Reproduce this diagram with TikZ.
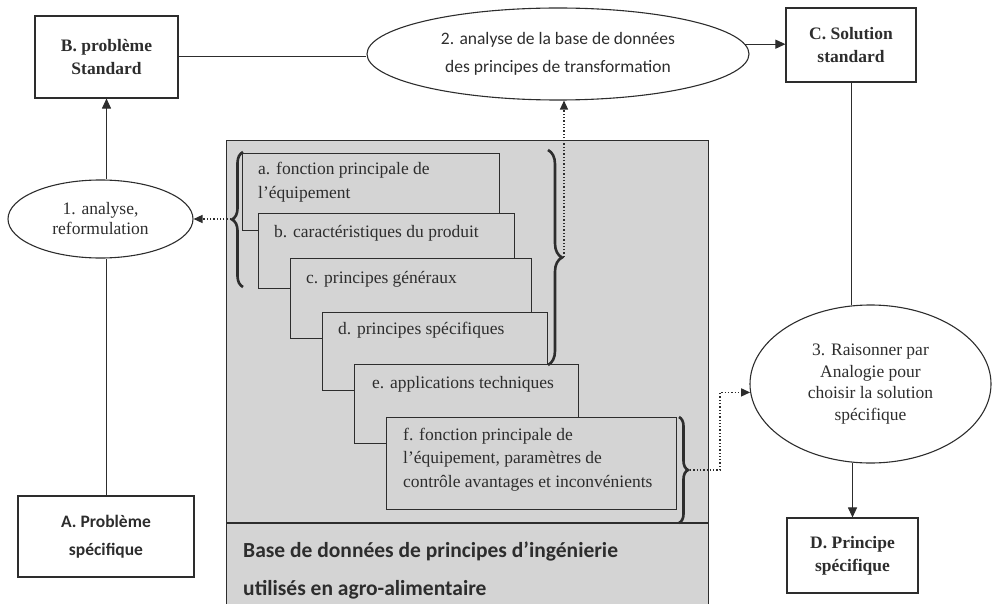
\documentclass[tikz,border=0pt]{standalone}
\usepackage{fontspec}
\setmainfont{Liberation Serif}
\newfontfamily\carl{Carlito}
\usetikzlibrary{shapes.geometric,arrows.meta,decorations.pathreplacing,calc}
\definecolor{dbgray}{RGB}{212,212,212}
\definecolor{ink}{RGB}{45,45,45}
\begin{document}
\begin{tikzpicture}[x=1pt,y=-1pt, color=ink,
  sbox/.style={draw=ink, line width=1.1pt, inner sep=0pt, align=center, text=ink,
    font=\fontsize{17.5}{23}\selectfont\bfseries},
  ell/.style={draw=ink, ellipse, line width=1.1pt, inner sep=0pt, align=center, text=ink},
  stk/.style={draw=ink, fill=dbgray, line width=1.1pt, anchor=north west, inner sep=0pt},
  stxt/.style={anchor=base west, inner sep=0pt, align=left, text=ink,
    font=\fontsize{17.5}{23.5}\selectfont},
  arr/.style={draw=ink, line width=1pt, -{Triangle[length=10pt,width=9pt]}},
  dotarr/.style={draw=ink, line width=1.3pt, dotted, -{Triangle[length=9pt,width=8pt]}},
  brc/.style={draw=ink, decorate, decoration={brace, amplitude=#1}, line width=2.6pt},
  conn/.style={draw=ink, line width=1pt}
]
\useasboundingbox (0,0) rectangle (992,604);

% database container
\node[draw=ink, fill=dbgray, line width=1.3pt, anchor=north west, inner sep=0pt,
      minimum width=482pt, minimum height=475pt] (db) at (226,140) {};
\coordinate (sepL) at (226,523);
\coordinate (sepR) at (708,523);
\draw[conn, line width=1.6pt] (sepL) -- (sepR);
\node[anchor=base west, inner sep=0pt, align=left, text=ink,
      font=\carl\bfseries\fontsize{21.5}{38}\selectfont] (dbt) at (243,595)
      {Base de données de principes d’ingénierie\\utilisés en agro-alimentaire};

% stacked boxes
\node[stk, minimum width=257pt, minimum height=77pt] (a) at (242,153) {};
\node[stxt] (ta) at (258,198) {a. fonction principale de\\l’équipement};
\node[stk, minimum width=256pt, minimum height=75pt] (b) at (258,213) {};
\node[stxt] (tb) at (274,237) {b. caractéristiques du produit};
\node[stk, minimum width=241pt, minimum height=80pt] (c) at (290,258) {};
\node[stxt] (tc) at (306,283) {c. principes généraux};
\node[stk, minimum width=225pt, minimum height=78pt] (d) at (322,312) {};
\node[stxt] (td) at (338,334) {d. principes spécifiques};
\node[stk, minimum width=224pt, minimum height=79pt] (e) at (354,364) {};
\node[stxt] (te) at (372,388) {e. applications techniques};
\node[stk, minimum width=290pt, minimum height=92pt] (f) at (386,417) {};
\node[stxt] (tf) at (403,487) {f. fonction principale de\\l’équipement, paramètres de\\contrôle avantages et inconvénients};

% braces
\coordinate (lb1) at (243,287);
\coordinate (lb2) at (243,152);
\coordinate (ltip) at (231,219);
\draw[brc=11pt] (lb1) -- (lb2);
\coordinate (rb1) at (548,150);
\coordinate (rb2) at (548,365);
\coordinate (rtip1) at (564,257);
\draw[brc=14pt] (rb1) -- (rb2);
\coordinate (rc1) at (679,417);
\coordinate (rc2) at (679,523);
\coordinate (rtip2) at (690,470);
\draw[brc=9pt] (rc1) -- (rc2);

% main boxes
\node[sbox, minimum width=143pt, minimum height=82pt] (B) at (106.5,57) {B. problème\\Standard};
\node[sbox, minimum width=130pt, minimum height=74pt] (C) at (851,45) {C. Solution\\standard};
\node[sbox, minimum width=131pt, minimum height=75pt] (D) at (852.5,555.5) {D. Principe\\spécifique};
\node[sbox, minimum width=176pt, minimum height=81pt, font=\carl\bfseries\fontsize{17.5}{28}\selectfont] (A) at (106,536.5) {A. Problème\\spécifique};

% ellipses
\node[ell, minimum width=185pt, minimum height=78pt, font=\fontsize{17.5}{20}\selectfont] (e1) at (100.5,219) {1. analyse,\\reformulation};
\node[ell, minimum width=382pt, minimum height=92pt, font=\carl\fontsize{17.5}{28}\selectfont] (e2) at (558,54) {2. analyse de la base de données\\des principes de transformation};
\node[ell, minimum width=241pt, minimum height=158pt, font=\fontsize{17.5}{21.5}\selectfont] (e3) at (870.5,384) {3. Raisonner par\\Analogie pour\\choisir la solution\\spécifique};

% connectors
\draw[conn] (A.north) -- (A.north |- e1.south);
\draw[arr] (e1.north -| B.south) -- (B.south);
\draw[conn] (B.east) -- (B.east -| e2.west);
\draw[arr] (e2.3) -- (e2.3 -| C.west);
\draw[conn] (C.south) -- (C.south |- e3.103);
\draw[arr] (D.north |- e3.257) -- (D.north);

% dotted connectors
\draw[dotarr] (ltip) -- (e1.east);
\draw[dotarr] (rtip1) -- (rtip1 |- e2.south);
\draw[dotarr] (rtip2) -- ++(30,0) |- (e3.184);
\end{tikzpicture}
\end{document}
